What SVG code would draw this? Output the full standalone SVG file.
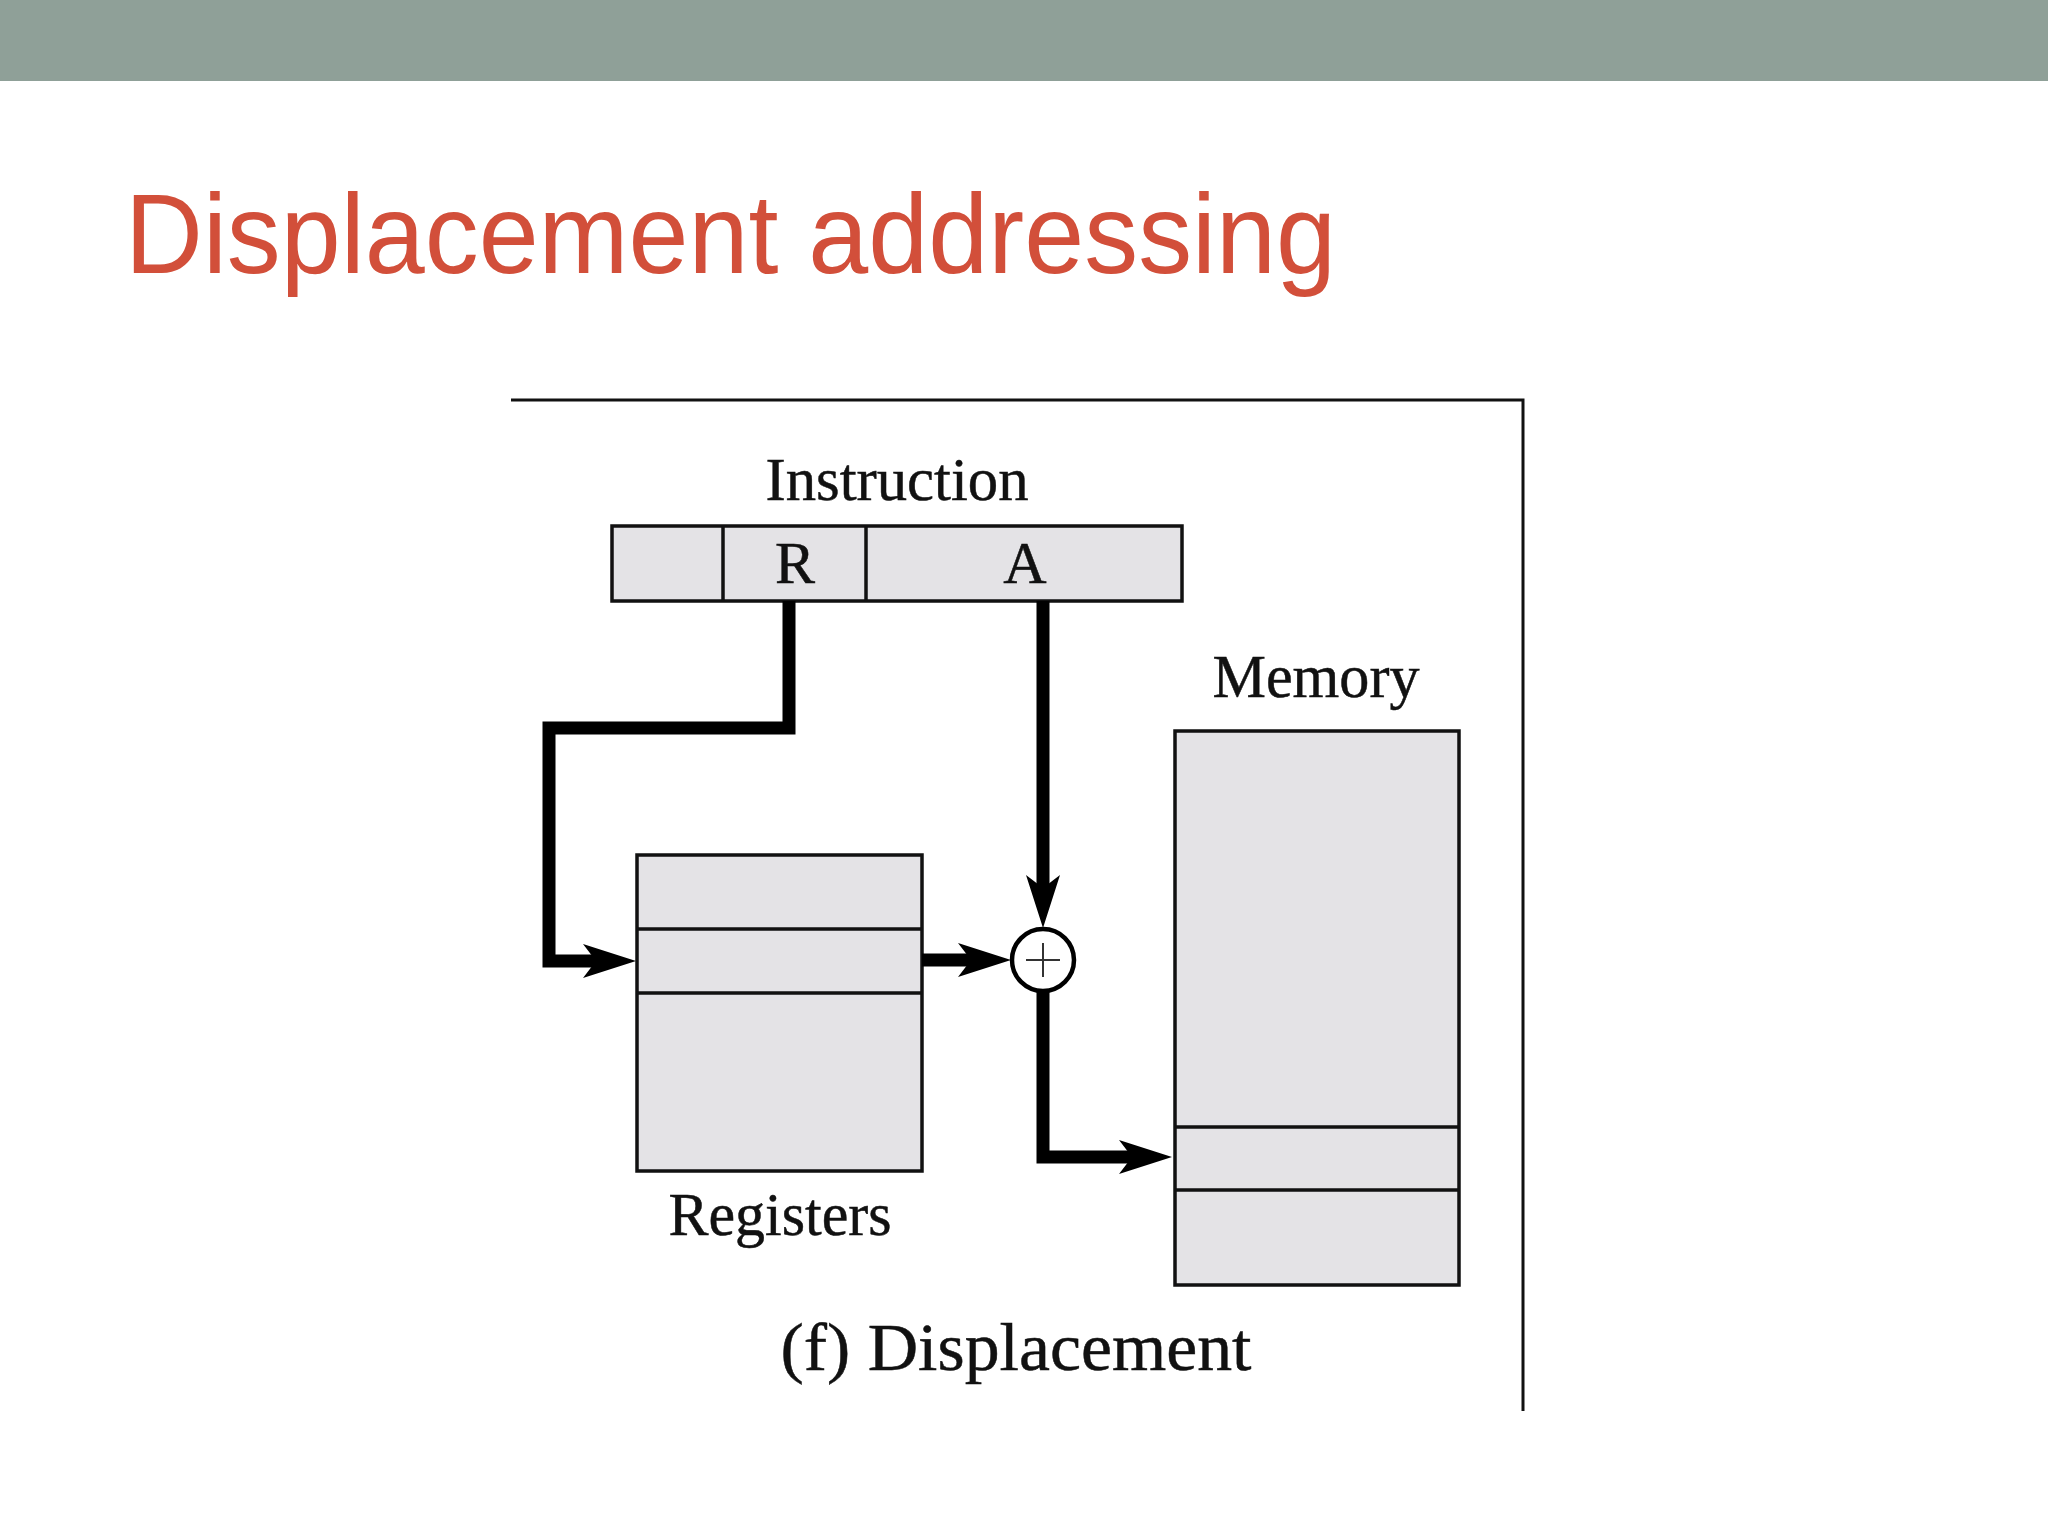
<svg xmlns="http://www.w3.org/2000/svg" xmlns:xlink="http://www.w3.org/1999/xlink" width="2048" height="1536" viewBox="0 0 2048 1536">
<style>
.box{fill:#e4e3e6;stroke:#111;stroke-width:3.5}
.div{stroke:#111;stroke-width:3.5}
.wire{fill:none;stroke:#000;stroke-width:13;stroke-linejoin:miter;stroke-linecap:butt}
.lbl{font-family:"Liberation Serif","Times New Roman",serif;fill:#111;stroke:#111;stroke-width:0.5;text-anchor:middle}
.frame{stroke:#111;stroke-width:3;fill:none}
</style>
<defs>
<path id="ah" d="M0,0 L-53,-17 L-40,0 L-53,17 Z" fill="#000"/>
</defs>
<rect x="0" y="0" width="2048" height="81" fill="#8fa098"/>
<text x="125" y="273" font-family="'Liberation Sans',Arial,sans-serif" font-size="113" fill="#d24f3a" textLength="1211" lengthAdjust="spacingAndGlyphs">Displacement addressing</text>
<g id="frame">
<path class="frame" d="M511,400 H1523 V1411"/>
</g>
<g id="instruction">
<text class="lbl" x="897" y="500" font-size="62" textLength="263" lengthAdjust="spacingAndGlyphs">Instruction</text>
<rect class="box" x="612" y="526" width="570" height="75"/>
<line class="div" x1="723" y1="526" x2="723" y2="601"/>
<line class="div" x1="866" y1="526" x2="866" y2="601"/>
<text class="lbl" x="795" y="583" font-size="60">R</text>
<text class="lbl" x="1025" y="583" font-size="60">A</text>
</g>
<g id="registers">
<rect class="box" x="637" y="855" width="285" height="316"/>
<line class="div" x1="637" y1="929" x2="922" y2="929"/>
<line class="div" x1="637" y1="993" x2="922" y2="993"/>
<text class="lbl" x="780" y="1235" font-size="62" textLength="223" lengthAdjust="spacingAndGlyphs">Registers</text>
</g>
<g id="memory">
<text class="lbl" x="1316" y="697" font-size="62" textLength="207" lengthAdjust="spacingAndGlyphs">Memory</text>
<rect class="box" x="1175" y="731" width="284" height="554"/>
<line class="div" x1="1175" y1="1127" x2="1459" y2="1127"/>
<line class="div" x1="1175" y1="1190" x2="1459" y2="1190"/>
</g>
<g id="adder">
<circle cx="1043" cy="960" r="31" fill="#fff" stroke="#000" stroke-width="4.5"/>
<line x1="1026" y1="960" x2="1060" y2="960" stroke="#333" stroke-width="2"/>
<line x1="1043" y1="943" x2="1043" y2="977" stroke="#333" stroke-width="2"/>
</g>
<g id="caption">
<text class="lbl" x="1016" y="1370" font-size="68" textLength="471" lengthAdjust="spacingAndGlyphs">(f) Displacement</text>
</g>
<g id="connectors">
<path class="wire" d="M789,601 V728 H549 V961 H600"/>
<use xlink:href="#ah" transform="translate(636,961)"/>
<path class="wire" d="M922,960 H972"/>
<use xlink:href="#ah" transform="translate(1011,960)"/>
<path class="wire" d="M1043,601 V890"/>
<use xlink:href="#ah" transform="translate(1043,928) rotate(90)"/>
<path class="wire" d="M1043,990 V1157 H1133"/>
<use xlink:href="#ah" transform="translate(1172,1157)"/>
</g>
</svg>
